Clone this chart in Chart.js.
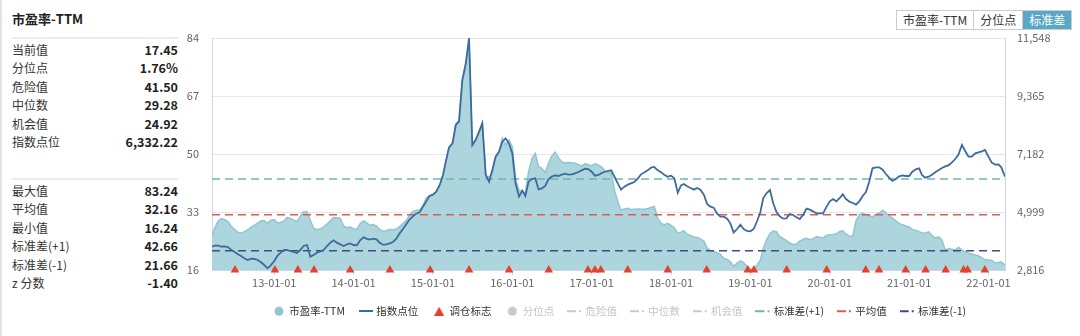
<!DOCTYPE html>
<html>
<head>
<meta charset="utf-8">
<title>市盈率-TTM</title>
<script src="https://cdn.jsdelivr.net/npm/chart.js@4.4.0/dist/chart.umd.min.js"></script>
<style>
  body { margin: 0; width: 1080px; height: 336px; position: relative; overflow: hidden; background: #fff;
         font-family: "Noto Sans CJK SC", "Noto Sans", sans-serif; color: #333; }
  .edge { position: absolute; left: 0; top: 0; width: 2px; height: 336px; background: #e3e3e3; }
  .title { position: absolute; left: 12px; top: 9px; font-size: 13px; font-weight: bold; color: #222; }
  .sep { position: absolute; left: 12px; width: 166px; height: 2px; background: #ececec; }
  .stats { position: absolute; left: 12px; width: 166px; }
  .row { display: flex; justify-content: space-between; height: 18.4px; line-height: 18.4px; }
  .row .k { font-size: 12px; color: #333; }
  .row .v { font-size: 12.5px; font-weight: bold; color: #222; }
  .tabs { position: absolute; left: 896px; top: 10px; height: 20px; display: flex; border: 1px solid #ccc; box-sizing: border-box; }
  .tabs span { font-size: 12px; line-height: 18px; padding: 0 6px; color: #333; border-left: 1px solid #ccc; }
  .tabs span:first-child { border-left: none; }
  .tabs span.on { background: #5aa8c6; color: #fff; }
  .plot { position: absolute; left: 180px; top: 0; width: 880px; height: 336px; }
</style>
</head>
<body>
<div class="edge"></div>
<div class="title">市盈率-TTM</div>
<div class="sep" style="top:37px"></div>
<div class="stats" id="statsTop" style="top:41px"></div>
<div class="sep" style="top:178px"></div>
<div class="stats" id="statsBottom" style="top:182px"></div>
<div class="tabs"><span>市盈率-TTM</span><span>分位点</span><span class="on">标准差</span></div>
<div class="plot"><canvas id="peChart"></canvas></div>

<script>
// summary panel
const summaryLabels = ['当前值', '分位点', '危险值', '中位数', '机会值', '指数点位'];
const summaryValues = ['17.45', '1.76%', '41.50', '29.28', '24.92', '6,332.22'];
const rangeLabels = ['最大值', '平均值', '最小值', '标准差(+1)', '标准差(-1)', 'z 分数'];
const rangeValues = ['83.24', '32.16', '16.24', '42.66', '21.66', '-1.40'];

// reference levels of the PE series
const dangerPe = 41.50;
const medianPe = 29.28;
const chancePe = 24.92;
const upperBand = 42.66;
const meanPe = 32.16;
const lowerBand = 21.66;

// axis ticks
const peTicks = [16, 33, 50, 67, 84];
const indexTicks = [2816, 4999, 7182, 9365, 11548];
const yearTicks = ['13-01-01', '14-01-01', '15-01-01', '16-01-01', '17-01-01',
                   '18-01-01', '19-01-01', '20-01-01', '21-01-01', '22-01-01'];

// series: first close, closes on the 1st and 16th of each month (2012-04-01 .. 2022-03-01), latest close
const firstDate = '2012-03-20';
const lastDate = '2022-03-18';
const peValues = [25.8,
  28.2, 30.2, 31.1, 30.8, 30.2, 28.9, 27.9, 27.1, 26.8, 27.2, 27.8, 28.5, 29.1, 29.7, 30.4, 30.4, 29.7, 30.6,
  30.8, 29.8, 30.0, 30.4, 31.4, 31.1, 30.6, 30.2, 31.8, 33.1, 33.1, 30.6, 28.2, 27.9, 28.0, 28.6, 29.5, 30.4, 31.4, 31.3, 31.1, 28.9, 28.4, 28.6,
  28.1, 27.9, 29.7, 30.4, 29.9, 29.1, 29.3, 28.9, 27.9, 27.3, 27.5, 27.9, 27.7, 28.0, 28.7, 29.6, 30.6, 32.1, 33.1, 33.5, 33.6, 34.9, 37.1, 37.8,
  38.1, 39.0, 40.8, 43.0, 47.6, 51.9, 53.1, 58.8, 60.0, 71.2, 75.6, 83.24, 52.6, 54.1, 56.1, 59.0, 43.3, 43.3, 44.3, 48.7, 50.7, 54.6, 52.6, 54.1,
  52.1, 42.4, 39.4, 39.0, 38.5, 44.8, 48.7, 50.2, 46.3, 45.8, 44.6, 47.3, 49.4, 50.6, 48.9, 47.7, 47.3, 47.6, 47.4, 47.3, 46.9, 46.5, 47.1, 46.9,
  46.5, 47.1, 46.8, 46.2, 45.2, 44.6, 44.3, 39.4, 36.0, 33.6, 33.9, 34.1, 33.7, 33.8, 33.9, 33.8, 33.8, 34.0, 34.3, 34.6, 31.1, 29.7, 29.2, 29.7,
  29.1, 28.4, 26.8, 27.1, 27.5, 26.5, 26.1, 25.7, 25.5, 25.1, 24.5, 22.4, 21.7, 21.4, 21.0, 20.6, 19.4, 19.1, 18.4, 17.1, 18.0, 18.7, 18.2, 17.1,
  16.3, 16.24, 17.5, 18.9, 22.3, 24.8, 26.7, 27.4, 27.2, 25.8, 25.2, 24.6, 23.9, 23.5, 23.6, 24.5, 25.0, 25.3, 24.9, 25.2, 25.8, 25.5, 25.4, 26.1,
  26.3, 26.4, 26.6, 27.3, 27.5, 26.5, 25.9, 25.9, 30.4, 32.2, 32.6, 32.2, 31.9, 31.6, 32.3, 32.7, 33.5, 32.7, 31.9, 31.2, 30.4, 29.6, 29.3, 28.9,
  28.6, 27.9, 27.6, 27.2, 26.9, 26.8, 27.2, 26.1, 25.4, 25.7, 24.8, 21.9, 22.2, 22.1, 21.9, 22.6, 21.9, 21.3, 21.0, 20.7, 20.4, 20.1, 19.6, 19.0,
  18.9, 18.8, 18.1, 18.2, 18.3,
  17.45];
const indexValues = [3694,
  3732, 3732, 3694, 3707, 3681, 3581, 3506, 3418, 3343, 3255, 3192, 3242, 3230, 3192, 3105, 3004, 2879, 2992,
  3155, 3355, 3481, 3568, 3568, 3531, 3493, 3456, 3568, 3719, 3757, 3318, 3380, 3468, 3518, 3568, 3719, 3844, 3932, 3844, 3782, 3719, 3782, 3819,
  3757, 3744, 3945, 4045, 3995, 3957, 3995, 3970, 3844, 3769, 3782, 3819, 3870, 3982, 4196, 4359, 4547, 4723, 4836, 4936, 4986, 5200, 5400, 5601,
  5651, 5764, 6015, 6392, 6893, 7433, 7584, 8274, 8399, 9968, 10595, 11548, 7521, 7709, 8023, 8336, 6392, 6141, 6580, 7082, 7270, 7646, 7772, 7584,
  7207, 6078, 5576, 5802, 5601, 6141, 6241, 6266, 5852, 5890, 5978, 6241, 6329, 6379, 6354, 6404, 6442, 6404, 6417, 6454, 6505, 6567, 6630, 6617,
  6517, 6367, 6392, 6467, 6505, 6542, 6567, 6316, 6078, 5840, 5952, 6028, 6078, 6128, 6254, 6417, 6492, 6567, 6668, 6693, 6567, 6492, 6404, 6329,
  6367, 6266, 5727, 6003, 6053, 5965, 5902, 5840, 5902, 5840, 5651, 5300, 5200, 5162, 4936, 4823, 4823, 4748, 4572, 4221, 4359, 4522, 4359, 4284,
  4271, 4359, 4660, 4999, 5513, 5702, 5827, 5325, 4999, 4836, 4748, 4760, 4924, 4886, 4798, 4735, 4899, 5124, 5087, 5024, 4949, 4949, 4949, 5175,
  5400, 5488, 5400, 5526, 5664, 5488, 5388, 5338, 5275, 5400, 5601, 5752, 6141, 6643, 6680, 6680, 6592, 6429, 6291, 6166, 6241, 6341, 6379, 6354,
  6354, 6517, 6605, 6643, 6392, 6291, 6329, 6404, 6492, 6567, 6655, 6718, 6756, 6856, 6994, 7157, 7521, 7295, 7082, 7082, 7207, 7245, 7283, 7333,
  7082, 6856, 6781, 6793, 6680,
  6332.22];

// rebalance dates
const rebalanceDates = ['2012-07-04', '2013-01-04', '2013-04-20', '2013-07-03', '2013-12-16',
  '2014-06-17', '2014-12-19', '2015-06-16', '2015-12-17', '2016-06-17', '2016-12-15',
  '2017-01-16', '2017-02-12', '2017-06-16', '2017-12-17', '2018-06-14', '2018-12-20',
  '2019-01-17', '2019-06-17', '2019-12-18', '2020-06-15', '2020-08-15', '2020-12-16',
  '2021-03-18', '2021-06-18', '2021-09-09', '2021-09-27', '2021-12-15'];

function fillRows(el, labels, values) {
  labels.forEach((label, i) => {
    const row = document.createElement('div');
    row.className = 'row';
    row.innerHTML = '<span class="k"></span><span class="v"></span>';
    row.children[0].textContent = label;
    row.children[1].textContent = values[i];
    el.appendChild(row);
  });
}
fillRows(document.getElementById('statsTop'), summaryLabels, summaryValues);
fillRows(document.getElementById('statsBottom'), rangeLabels, rangeValues);

// date string -> fractional year for the linear x axis
function toYear(s) {
  const [y, m, d] = s.split('-').map(Number);
  const a = Date.UTC(y, 0, 1), b = Date.UTC(y + 1, 0, 1);
  return y + (Date.UTC(y, m - 1, d) - a) / (b - a);
}

const seriesDates = [firstDate];
for (let y = 2012, m = 4; y < 2022 || m <= 3; ) {
  const mm = String(m).padStart(2, '0');
  seriesDates.push(y + '-' + mm + '-01');
  if (y === 2022 && m === 3) break;
  seriesDates.push(y + '-' + mm + '-16');
  if (++m > 12) { m = 1; y++; }
}
seriesDates.push(lastDate);

const xs = seriesDates.map(toYear);
const xMin = toYear(firstDate), xMax = toYear(lastDate);
const level = v => [{ x: xMin, y: v }, { x: xMax, y: v }];

const teal = '#8fc6d1', blue = '#3e6b9c', red = '#e5412b';
const bandColors = { up: '#6cb6b3', mean: '#dc5a55', low: '#3f4b82' };
const grey = '#c9c9c9';

// small legend symbols
function icon(w, h, draw) {
  const c = document.createElement('canvas');
  c.width = w; c.height = h;
  draw(c.getContext('2d'));
  return c;
}
const dot = color => icon(10, 10, ctx => { ctx.fillStyle = color; ctx.beginPath(); ctx.arc(5, 5, 4.5, 0, Math.PI * 2); ctx.fill(); });
const dashDot = color => icon(16, 4, ctx => { ctx.fillStyle = color; ctx.fillRect(0, 1, 9, 2); ctx.fillRect(12, 1, 2, 2); });
const legendIcons = [
  dot(teal),
  icon(14, 2, ctx => { ctx.fillStyle = blue; ctx.fillRect(0, 0, 14, 2); }),
  icon(10, 9, ctx => { ctx.fillStyle = red; ctx.beginPath(); ctx.moveTo(5, 0); ctx.lineTo(10, 9); ctx.lineTo(0, 9); ctx.fill(); }),
  dot(grey),
  dashDot(grey), dashDot(grey), dashDot(grey),
  dashDot(bandColors.up), dashDot(bandColors.mean), dashDot(bandColors.low)
];

const levelLine = (label, v, color, hidden) => ({
  label, data: level(v), yAxisID: 'y', borderColor: color, borderWidth: 1.5,
  borderDash: [8, 5], pointRadius: 0, fill: false, hidden, order: 2
});

Chart.defaults.font.family = '"Noto Sans CJK SC", "Noto Sans", sans-serif';
Chart.defaults.color = '#666';

new Chart(document.getElementById('peChart'), {
  type: 'line',
  data: {
    datasets: [
      {
        label: '市盈率-TTM',
        data: xs.map((x, i) => ({ x, y: peValues[i] })),
        yAxisID: 'y', fill: 'start', backgroundColor: '#acd5dd', borderColor: teal,
        borderWidth: 1.5, pointRadius: 0, order: 4
      },
      {
        label: '指数点位',
        data: xs.map((x, i) => ({ x, y: indexValues[i] })),
        yAxisID: 'y1', borderColor: blue, borderWidth: 1.8, pointRadius: 0, fill: false, order: 1
      },
      {
        label: '调仓标志',
        data: rebalanceDates.map(d => ({ x: toYear(d), y: peTicks[0] })),
        yAxisID: 'y', showLine: false, pointStyle: 'triangle', pointRadius: 5,
        backgroundColor: red, borderWidth: 0, clip: false, order: 0
      },
      { label: '分位点', data: [], yAxisID: 'y', hidden: true },
      levelLine('危险值', dangerPe, grey, true),
      levelLine('中位数', medianPe, grey, true),
      levelLine('机会值', chancePe, grey, true),
      levelLine('标准差(+1)', upperBand, bandColors.up, false),
      levelLine('平均值', meanPe, bandColors.mean, false),
      levelLine('标准差(-1)', lowerBand, bandColors.low, false)
    ]
  },
  options: {
    responsive: true,
    maintainAspectRatio: false,
    animation: false,
    layout: { padding: { top: 38, bottom: 9.5, left: 0, right: 0 } },
    plugins: {
      tooltip: { enabled: false },
      legend: {
        position: 'bottom',
        labels: {
          usePointStyle: true,
          boxWidth: 10,
          boxHeight: 10,
          padding: 16,
          font: { size: 10.5 },
          generateLabels: chart => chart.data.datasets.map((ds, i) => ({
            text: ds.label,
            pointStyle: legendIcons[i],
            fontColor: ds.hidden ? '#c4c4c4' : '#333',
            hidden: false,
            lineWidth: 0,
            datasetIndex: i
          }))
        }
      }
    },
    scales: {
      x: {
        type: 'linear',
        min: xMin,
        max: xMax,
        afterBuildTicks: s => { s.ticks = yearTicks.map(t => ({ value: toYear('20' + t) })); },
        afterFit: s => { s.height = 20; },
        ticks: {
          font: { size: 11 },
          padding: 1,
          maxRotation: 0,
          autoSkip: false,
          callback: (v, i) => yearTicks[i]
        },
        grid: { drawOnChartArea: false, tickLength: 5, color: '#ccd6eb' },
        border: { color: '#ccd6eb' }
      },
      y: {
        position: 'left',
        min: peTicks[0],
        max: peTicks[peTicks.length - 1],
        afterBuildTicks: s => { s.ticks = peTicks.map(value => ({ value })); },
        afterFit: s => { s.width = 32; },
        ticks: { font: { size: 11 }, padding: 13 },
        grid: { color: '#e6e6e6', drawTicks: false },
        border: { color: '#ccd6eb' }
      },
      y1: {
        position: 'right',
        min: indexTicks[0],
        max: indexTicks[indexTicks.length - 1],
        afterBuildTicks: s => { s.ticks = indexTicks.map(value => ({ value })); },
        afterFit: s => { s.width = 55; },
        ticks: { font: { size: 11 }, padding: 12, callback: v => v.toLocaleString('en-US') },
        grid: { display: false, drawTicks: false },
        border: { color: '#ccd6eb' }
      }
    }
  }
});
</script>
</body>
</html>
